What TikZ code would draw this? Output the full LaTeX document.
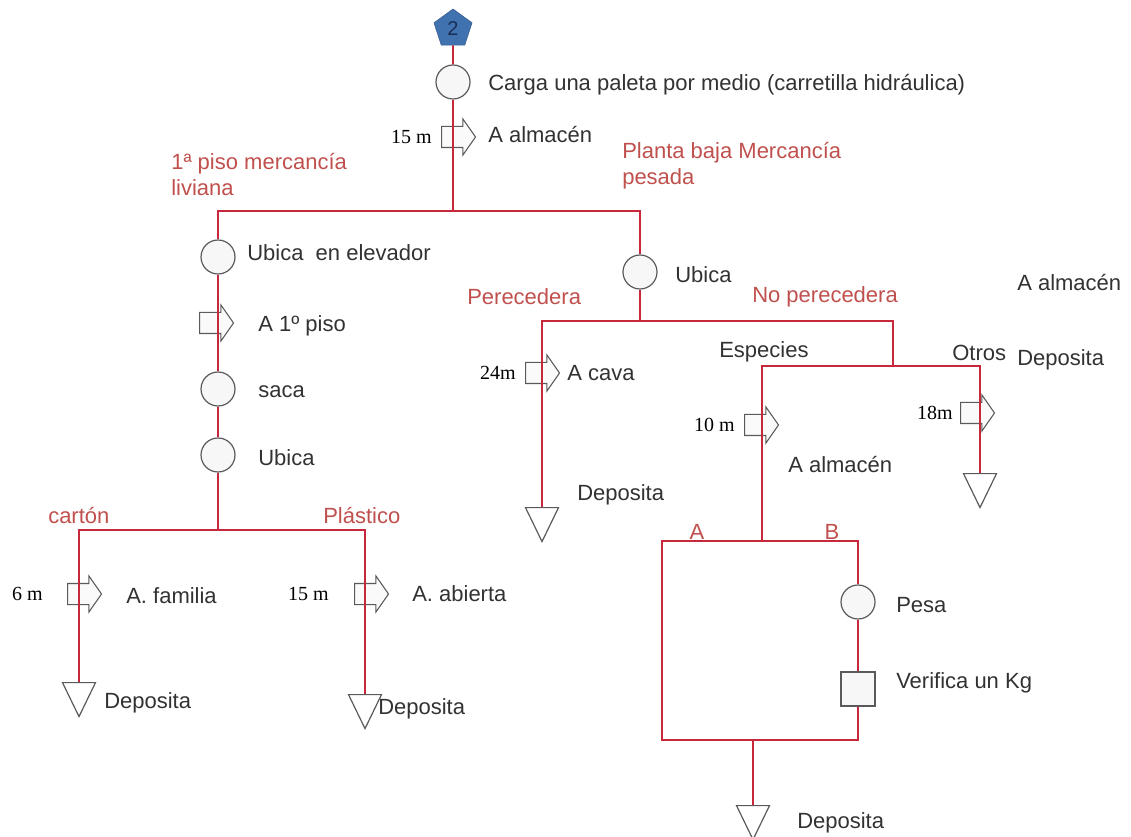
\documentclass[tikz,border=0pt]{standalone}
\usepackage{fontspec}
\setmainfont{Liberation Sans}
\newfontfamily\serifa{Liberation Serif}
\usetikzlibrary{shapes.geometric,shapes.arrows}
\definecolor{linea}{RGB}{200,40,60}
\definecolor{rotulo}{RGB}{192,80,77}
\definecolor{borde}{RGB}{90,90,90}
\definecolor{texto}{RGB}{50,50,50}
\definecolor{azul}{RGB}{65,114,176}
\definecolor{marino}{RGB}{25,45,85}
\begin{document}
\begin{tikzpicture}[x=0.75pt,y=-0.75pt,
    line/.style={draw=linea,line width=1.2pt},
    oper/.style={circle,draw=borde,fill=gray!6,line width=0.9pt,minimum size=25.5pt,inner sep=0pt},
    insp/.style={rectangle,draw=borde,fill=gray!6,line width=0.9pt,minimum size=25.5pt,inner sep=0pt},
    almac/.style={isosceles triangle,isosceles triangle stretches,shape border rotate=270,draw=borde,fill=white,line width=0.9pt,minimum width=24.75pt,minimum height=25.5pt,inner sep=0pt,anchor=north},
    trans/.style={single arrow,draw=borde,fill=gray!4,line width=0.8pt,inner xsep=0pt,inner ysep=7.5pt,minimum height=25.5pt,single arrow head extend=5.6pt,single arrow tip angle=110,anchor=tail},
    pent/.style={regular polygon,regular polygon sides=5,draw=azul!80!black,fill=azul,minimum size=30pt,inner sep=0pt,text=marino,font=\fontsize{15}{15}\selectfont},
    txt/.style={anchor=west,inner sep=0pt,text=texto,font=\fontsize{16.5}{19.5}\selectfont},
    rojo/.style={txt,text=rotulo,align=left},
    dist/.style={anchor=east,inner sep=0pt,text=black,font=\serifa\fontsize{15}{15}\selectfont}]
    \useasboundingbox (0,0) rectangle (1131,837);
    \node[pent] (P) at (453,29) {2};
    \node[oper] (O1) at (453,82) {};
    \node[txt] (L1) at (488,85) {Carga una paleta por medio (carretilla hidráulica)};
    \node[trans] (T1) at (441,137) {};
    \node[dist] (M1) at (432,137) {15 m};
    \node[txt] (L2) at (488,135) {A almacén};
    \node[rojo] (R1) at (171,175) {1ª piso mercancía\\liviana};
    \node[rojo] (R2) at (622,166) {Planta baja Mercancía\\pesada};
    \coordinate (J0) at (453,211);
    \node[oper] (O2) at (218,257) {};
    \node[txt] (L3) at (247,253) {Ubica\ \ en elevador};
    \node[trans] (T2) at (199,323) {};
    \node[txt] (L4) at (258,326) {A 1º piso};
    \node[oper] (O3) at (218,389) {};
    \node[txt] (L5) at (258,392) {saca};
    \node[oper] (O4) at (218,455) {};
    \node[txt] (L6) at (258,458) {Ubica};
    \coordinate (J1) at (218,530);
    \node[rojo] (R3) at (48,516) {cartón};
    \node[rojo] (R4) at (323,516) {Plástico};
    \node[trans] (T3) at (67,594) {};
    \node[dist] (M2) at (43,594) {6 m};
    \node[txt] (L7) at (126,596) {A. familia};
    \node[almac] (D1) at (79,682) {};
    \node[txt] (L8) at (104,703) {Deposita};
    \node[trans] (T4) at (354,594) {};
    \node[dist] (M3) at (329,594) {15 m};
    \node[txt] (L9) at (412,594) {A. abierta};
    \node[almac] (D2) at (365,694) {};
    \node[txt] (L10) at (378,709) {Deposita};
    \node[oper] (O5) at (640,272) {};
    \node[txt] (L11) at (675,275) {Ubica};
    \node[rojo] (R5) at (467,297) {Perecedera};
    \node[rojo] (R6) at (752,297) {No perecedera};
    \coordinate (J2) at (640,321);
    \node[trans] (T5) at (525,373) {};
    \node[dist] (M4) at (516,373) {24m};
    \node[txt] (L12) at (567,373) {A cava};
    \node[almac] (D3) at (542,507) {};
    \node[txt] (L13) at (577,495) {Deposita};
    \node[txt] (L14) at (1017,283) {A almacén};
    \coordinate (J3) at (893,366);
    \node[txt] (L15) at (719,352) {Especies};
    \node[txt] (L16) at (952,353) {Otros};
    \node[txt] (L17) at (1017,360) {Deposita};
    \node[trans] (T6) at (960,413) {};
    \node[dist] (M5) at (953,413) {18m};
    \node[almac] (D4) at (980,473) {};
    \node[trans] (T7) at (744,425) {};
    \node[dist] (M6) at (735,425) {10 m};
    \node[txt] (L18) at (788,465) {A almacén};
    \coordinate (J4) at (762,541);
    \node[rojo,anchor=base] (R7) at (697,539) {A};
    \node[rojo,anchor=base] (R8) at (832,539) {B};
    \coordinate (J5) at (662,740);
    \coordinate (J6) at (753,740);
    \node[oper] (O6) at (858,602) {};
    \node[txt] (L19) at (896,605) {Pesa};
    \node[insp] (V1) at (858,689) {};
    \node[txt] (L20) at (896,683) {Verifica un Kg};
    \node[almac] (D5) at (753,805) {};
    \node[txt] (L21) at (797,823) {Deposita};
    \draw[line] (P) -- (O1);
    \draw[line] (O1) -- (J0);
    \draw[line] (O2) |- (J0) -| (O5);
    \draw[line] (O2) -- (O3);
    \draw[line] (O3) -- (O4);
    \draw[line] (O4) -- (J1);
    \draw[line] (D1) |- (J1) -| (D2);
    \draw[line] (O5) -- (J2);
    \draw[line] (D3) |- (J2) -| (J3);
    \draw[line] (J4) |- (J3) -| (D4);
    \draw[line] (O6) |- (J4) -| (J5) -- (J6);
    \draw[line] (O6) -- (V1);
    \draw[line] (V1) |- (J6);
    \draw[line] (J6) -- (D5);
\end{tikzpicture}
\end{document}
